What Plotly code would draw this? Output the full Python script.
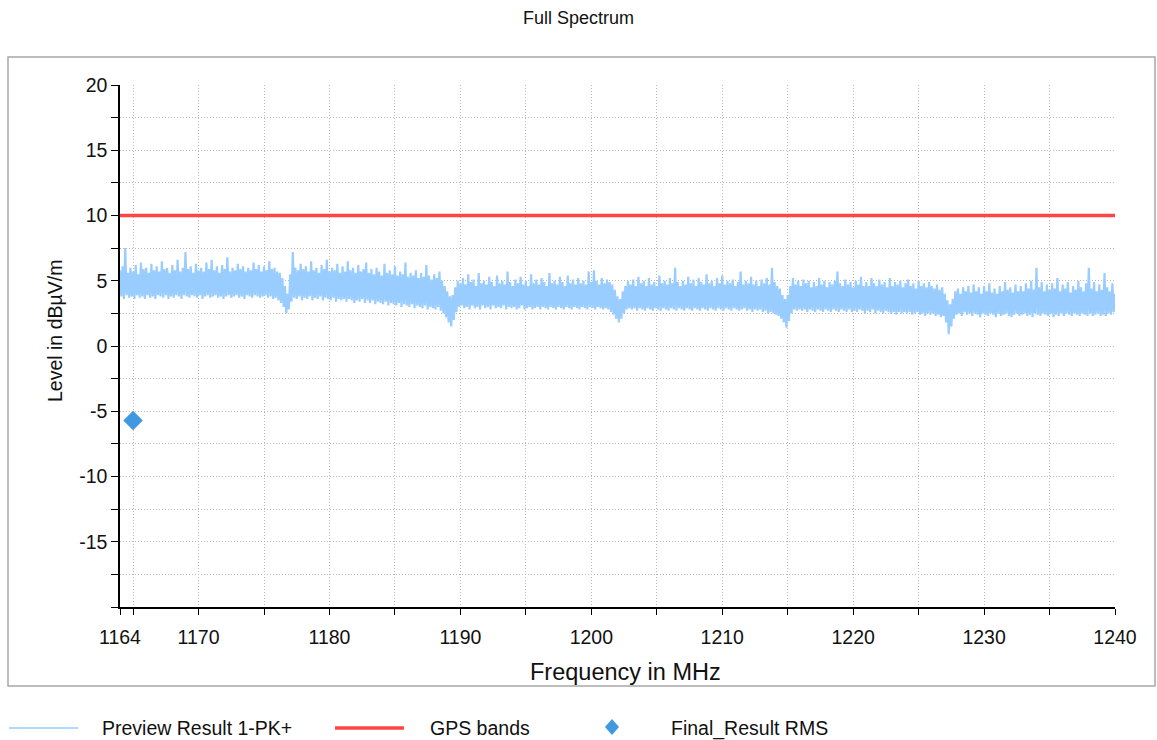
import plotly.graph_objects as go

# ---------------- data ----------------
F_START_MHZ = 1164.0
F_STEP_MHZ = 0.1

# Preview Result 1-PK+ (dBµV/m), one row per MHz, 0.1 MHz steps
preview_level = [
    5.8, 3.8, 6.1, 3.6, 7.5, 3.9, 5.6, 3.7, 6.0, 3.8,
    5.7, 3.6, 6.2, 3.9, 5.5, 3.7, 6.4, 3.8, 5.9, 3.6,
    6.0, 3.9, 5.6, 3.7, 6.3, 3.8, 5.8, 3.6, 6.1, 3.9,
    5.7, 3.8, 6.5, 3.7, 5.9, 3.9, 6.0, 3.6, 5.6, 3.8,
    6.2, 3.7, 5.8, 3.9, 6.6, 3.8, 5.7, 3.6, 6.0, 3.9,
    7.2, 3.8, 5.9, 3.7, 6.1, 3.9, 5.6, 3.8, 6.3, 3.7,
    5.8, 3.9, 6.0, 3.6, 5.7, 3.8, 6.4, 3.9, 5.9, 3.7,
    6.6, 3.8, 5.8, 3.9, 6.1, 3.7, 5.6, 3.8, 6.2, 3.6,
    5.9, 3.8, 6.8, 3.9, 5.7, 3.7, 6.0, 3.8, 5.8, 3.9,
    6.3, 3.7, 5.9, 3.8, 6.1, 3.6, 5.7, 3.9, 6.0, 3.8,
    5.8, 3.7, 6.4, 3.9, 5.9, 3.8, 6.2, 3.7, 5.7, 3.8,
    6.1, 3.9, 5.8, 3.7, 6.5, 3.8, 5.9, 3.6, 6.0, 3.7,
    5.7, 3.5, 5.6, 3.3, 5.2, 3.0, 4.6, 2.5, 4.0, 2.8,
    5.5, 3.4, 7.2, 3.7, 6.0, 3.6, 5.8, 3.8, 6.3, 3.5,
    5.9, 3.7, 6.1, 3.6, 5.7, 3.8, 6.5, 3.5, 5.8, 3.7,
    6.0, 3.6, 5.6, 3.8, 6.2, 3.5, 5.9, 3.7, 6.6, 3.6,
    5.7, 3.5, 6.0, 3.7, 5.8, 3.4, 6.3, 3.6, 5.6, 3.5,
    6.1, 3.6, 5.7, 3.4, 6.5, 3.6, 5.8, 3.5, 6.0, 3.3,
    5.6, 3.5, 6.2, 3.4, 5.7, 3.6, 5.9, 3.3, 6.4, 3.5,
    5.6, 3.3, 5.9, 3.5, 5.5, 3.2, 6.0, 3.4, 5.7, 3.3,
    5.4, 3.2, 6.3, 3.4, 5.6, 3.1, 5.8, 3.3, 5.5, 3.2,
    6.1, 3.1, 5.4, 3.3, 5.7, 3.0, 5.5, 3.2, 6.4, 3.1,
    5.3, 3.0, 5.6, 3.2, 5.4, 2.9, 5.8, 3.1, 5.2, 3.0,
    5.6, 2.9, 5.3, 3.1, 6.2, 2.8, 5.4, 3.0, 5.1, 2.9,
    5.5, 2.8, 5.2, 3.0, 5.7, 2.7, 5.0, 2.5, 4.6, 2.2,
    4.2, 1.8, 3.8, 1.5, 3.9, 2.0, 4.5, 2.6, 5.0, 3.0,
    4.8, 3.1, 5.2, 2.9, 4.7, 3.0, 5.5, 2.8, 4.9, 3.1,
    5.1, 2.9, 4.6, 3.0, 5.6, 2.8, 4.8, 3.1, 5.0, 2.9,
    4.7, 3.0, 5.3, 2.8, 4.9, 3.1, 4.6, 2.9, 5.4, 3.0,
    4.8, 2.9, 5.0, 3.1, 4.7, 2.8, 5.7, 3.0, 4.9, 2.9,
    4.6, 3.0, 5.1, 2.8, 4.8, 2.9, 5.3, 3.1, 4.7, 2.8,
    5.0, 2.9, 4.6, 3.0, 5.5, 2.8, 4.8, 2.9, 5.1, 3.0,
    4.7, 2.8, 5.2, 3.0, 4.9, 2.9, 4.6, 2.8, 5.6, 3.0,
    4.8, 2.9, 5.0, 2.8, 4.7, 3.0, 5.3, 2.9, 4.9, 2.8,
    4.6, 3.0, 5.4, 2.9, 4.8, 2.8, 5.1, 3.0, 4.7, 2.9,
    5.2, 2.8, 4.8, 3.0, 5.0, 2.9, 4.7, 2.8, 5.7, 3.0,
    4.9, 2.9, 5.8, 2.8, 5.0, 3.0, 4.7, 2.9, 5.2, 2.8,
    4.8, 2.9, 5.1, 2.8, 4.9, 2.6, 4.7, 2.4, 4.3, 2.1,
    3.8, 1.8, 3.6, 2.1, 4.2, 2.5, 4.6, 2.8, 5.0, 2.9,
    4.7, 2.8, 5.1, 2.9, 4.6, 2.7, 5.3, 2.9, 4.8, 2.8,
    5.0, 2.7, 4.6, 2.9, 5.2, 2.8, 4.7, 2.7, 4.9, 2.9,
    4.6, 2.8, 5.4, 2.7, 4.8, 2.9, 5.0, 2.8, 4.7, 2.7,
    5.2, 2.9, 4.8, 2.8, 6.0, 2.7, 4.9, 2.9, 4.6, 2.8,
    5.0, 2.7, 4.7, 2.9, 5.3, 2.8, 4.8, 2.7, 5.1, 2.9,
    4.6, 2.8, 5.2, 2.7, 4.9, 2.9, 4.7, 2.8, 5.5, 2.7,
    4.8, 2.9, 5.0, 2.8, 4.6, 2.7, 5.2, 2.9, 4.8, 2.8,
    5.4, 2.7, 4.7, 2.9, 5.0, 2.8, 4.8, 2.7, 5.1, 2.9,
    4.6, 2.8, 4.9, 2.7, 5.7, 2.8, 4.7, 2.9, 5.0, 2.7,
    4.8, 2.8, 5.3, 2.6, 4.7, 2.8, 5.0, 2.7, 4.6, 2.8,
    5.1, 2.6, 4.8, 2.7, 5.2, 2.5, 4.7, 2.6, 6.0, 2.5,
    4.9, 2.4, 4.6, 2.3, 4.4, 2.1, 3.9, 1.8, 3.6, 1.4,
    3.9, 1.9, 4.6, 2.5, 5.2, 2.8, 4.7, 2.7, 5.0, 2.8,
    4.6, 2.7, 5.1, 2.8, 4.8, 2.6, 5.0, 2.8, 4.5, 2.7,
    4.9, 2.6, 4.6, 2.8, 5.2, 2.7, 4.7, 2.6, 5.0, 2.8,
    4.5, 2.7, 4.9, 2.6, 4.7, 2.8, 5.0, 2.7, 5.7, 2.6,
    4.8, 2.8, 4.6, 2.7, 5.1, 2.6, 4.7, 2.8, 4.9, 2.6,
    4.5, 2.7, 5.0, 2.6, 4.7, 2.8, 5.3, 2.7, 4.6, 2.5,
    4.9, 2.7, 4.6, 2.6, 5.2, 2.8, 4.8, 2.5, 4.6, 2.7,
    5.1, 2.6, 4.7, 2.5, 4.9, 2.7, 4.5, 2.6, 5.2, 2.5,
    4.6, 2.6, 4.9, 2.4, 4.7, 2.6, 5.0, 2.5, 4.5, 2.6,
    4.8, 2.5, 5.1, 2.6, 4.6, 2.4, 4.8, 2.5, 4.4, 2.6,
    5.0, 2.4, 4.6, 2.5, 4.8, 2.3, 4.5, 2.5, 4.9, 2.4,
    4.6, 2.5, 4.4, 2.3, 4.7, 2.4, 4.3, 2.2, 4.5, 2.3,
    4.0, 1.8, 3.5, 0.9, 3.2, 1.5, 3.6, 2.1, 4.2, 2.4,
    4.4, 2.5, 4.0, 2.3, 4.5, 2.6, 4.2, 2.4, 4.6, 2.5,
    4.1, 2.3, 4.7, 2.5, 4.2, 2.4, 4.5, 2.2, 4.0, 2.5,
    4.6, 2.4, 4.2, 2.3, 4.8, 2.5, 4.1, 2.4, 4.4, 2.2,
    4.0, 2.5, 4.6, 2.3, 4.2, 2.4, 4.9, 2.5, 4.3, 2.3,
    4.5, 2.2, 4.1, 2.4, 4.7, 2.5, 4.2, 2.3, 4.6, 2.4,
    4.2, 2.5, 4.8, 2.3, 4.4, 2.4, 5.0, 2.2, 4.3, 2.5,
    6.0, 2.4, 4.5, 2.3, 4.9, 2.5, 4.2, 2.4, 4.7, 2.3,
    4.3, 2.5, 4.8, 2.2, 4.4, 2.4, 5.2, 2.3, 4.2, 2.5,
    4.7, 2.3, 4.4, 2.5, 4.9, 2.4, 4.1, 2.3, 4.6, 2.5,
    4.3, 2.4, 5.0, 2.3, 4.5, 2.5, 4.2, 2.4, 4.8, 2.3,
    6.0, 2.5, 4.4, 2.3, 4.9, 2.4, 4.2, 2.5, 4.7, 2.3,
    4.3, 2.4, 5.6, 2.3, 4.5, 2.5, 4.2, 2.4, 4.8, 2.6,
    4.0,
]
preview_freq = [round(F_START_MHZ + F_STEP_MHZ * i, 1) for i in range(len(preview_level))]

gps_freq = [1164, 1240]
gps_level = [10, 10]

final_freq = [1165.0]
final_level = [-5.7]

x_tickvals = [1164, 1165, 1170, 1175, 1180, 1185, 1190, 1195, 1200, 1205,
              1210, 1215, 1220, 1225, 1230, 1235, 1240]
x_ticktext = ["1164", "", "1170", "", "1180", "", "1190", "", "1200", "",
              "1210", "", "1220", "", "1230", "", "1240"]
y_tickvals = [-20, -17.5, -15, -12.5, -10, -7.5, -5, -2.5, 0, 2.5, 5, 7.5,
              10, 12.5, 15, 17.5, 20]
y_ticktext = ["", "", "-15", "", "-10", "", "-5", "", "0", "", "5", "",
              "10", "", "15", "", "20"]

legend_names = ["Preview Result 1-PK+", "GPS bands", "Final_Result RMS"]

# ---------------- styling ----------------
FONT = "Liberation Sans, Arial, sans-serif"
C_PREVIEW = "#99ccff"
C_GPS = "#ff4545"
C_FINAL = "#3f98e0"
W, H = 1157, 740
ML, MR, MT, MB = 120, 42, 85, 133
PW, PH = W - ML - MR, H - MT - MB


def px(x):
    return (x - ML) / PW


def py(y):
    return (H - MB - y) / PH


fig = go.Figure()
fig.add_trace(go.Scatter(x=preview_freq, y=preview_level, mode="lines",
                         line=dict(color=C_PREVIEW, width=2.2),
                         name=legend_names[0], showlegend=False))
fig.add_trace(go.Scatter(x=gps_freq, y=gps_level, mode="lines",
                         line=dict(color=C_GPS, width=3.5),
                         name=legend_names[1], showlegend=False))
fig.add_trace(go.Scatter(x=final_freq, y=final_level, mode="markers",
                         marker=dict(symbol="diamond", size=15, color=C_FINAL),
                         name=legend_names[2], showlegend=False, cliponaxis=False))

axis_common = dict(showline=True, linecolor="black", linewidth=1.5,
                   ticks="outside", tickcolor="black", tickwidth=1.2,
                   showgrid=True, gridcolor="#b8b8b8", griddash="1px,2px", gridwidth=1,
                   zeroline=False, tickfont=dict(family=FONT, size=19.5, color="#111"),
                   tickmode="array")

fig.update_xaxes(range=[1164, 1240], tickvals=x_tickvals, ticktext=x_ticktext,
                 ticklen=6, ticklabelstandoff=6, **axis_common)
fig.update_yaxes(range=[-20, 20], tickvals=y_tickvals, ticktext=y_ticktext,
                 ticklen=7, ticklabelstandoff=0, **axis_common)

shapes = [
    # outer frame
    dict(type="rect", xref="paper", yref="paper",
         x0=px(8), x1=px(1155), y0=py(686), y1=py(57),
         line=dict(color="#a8a8a8", width=1.5), layer="below"),
    # legend samples
    dict(type="line", xref="paper", yref="paper", x0=px(9), x1=px(78),
         y0=py(728), y1=py(728), line=dict(color=C_PREVIEW, width=1.5)),
    dict(type="line", xref="paper", yref="paper", x0=px(335), x1=px(404),
         y0=py(728), y1=py(728), line=dict(color=C_GPS, width=3.5)),
    dict(type="path", xref="paper", yref="paper",
         path="M {a},{b} L {c},{d} L {a},{e} L {f},{d} Z".format(
             a=px(612), b=py(719), c=px(619), d=py(727), e=py(735), f=px(605)),
         fillcolor=C_FINAL, line=dict(width=0)),
]

annotations = [
    dict(text="Frequency in MHz", xref="paper", yref="paper", x=px(625), y=py(672),
         showarrow=False, xanchor="center", yanchor="middle",
         font=dict(family=FONT, size=23.5, color="#111")),
    dict(text="Level in dBµV/m", xref="paper", yref="paper", x=px(55), y=py(331),
         showarrow=False, xanchor="center", yanchor="middle", textangle=-90,
         font=dict(family=FONT, size=19.5, color="#111")),
    dict(text=legend_names[0], xref="paper", yref="paper", x=px(100), y=py(728),
         showarrow=False, xanchor="left", yanchor="middle",
         font=dict(family=FONT, size=19.5, color="#111")),
    dict(text=legend_names[1], xref="paper", yref="paper", x=px(428), y=py(728),
         showarrow=False, xanchor="left", yanchor="middle",
         font=dict(family=FONT, size=19.5, color="#111")),
    dict(text=legend_names[2], xref="paper", yref="paper", x=px(669), y=py(728),
         showarrow=False, xanchor="left", yanchor="middle",
         font=dict(family=FONT, size=19.5, color="#111")),
]

fig.update_layout(
    width=W, height=H,
    margin=dict(l=ML, r=MR, t=MT, b=MB),
    paper_bgcolor="white", plot_bgcolor="white",
    title=dict(text="Full Spectrum", x=0.5, xref="container", xanchor="center",
               y=1 - 18 / H, yref="container", yanchor="middle",
               font=dict(family=FONT, size=18, color="#111")),
    shapes=shapes, annotations=annotations, showlegend=False,
)

fig.write_html("out.html")
